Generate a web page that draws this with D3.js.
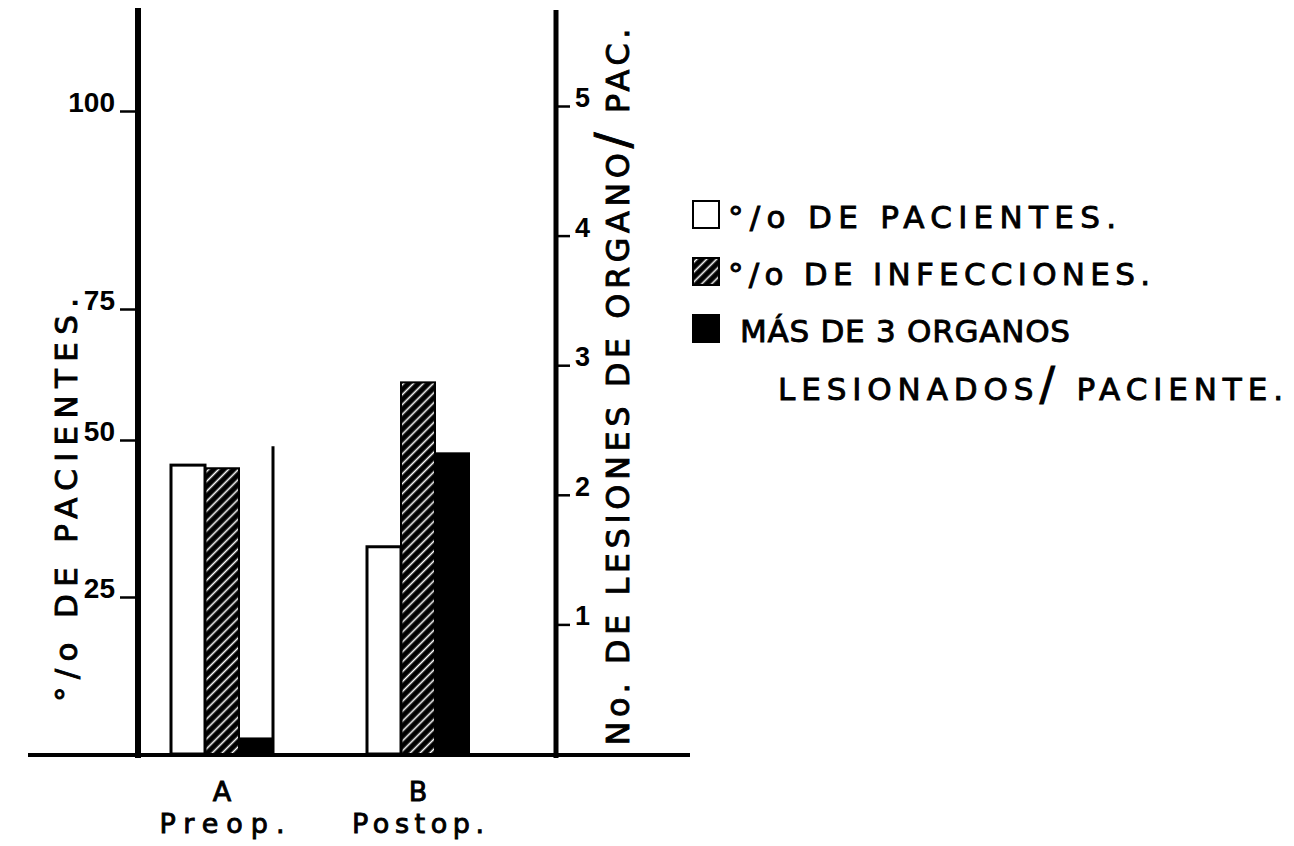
<!DOCTYPE html>
<html>
<head>
<meta charset="utf-8">
<script src="https://cdn.jsdelivr.net/npm/d3@7"></script>
<style>
  body { margin: 0; background: #fff; }
  text { font-family: "DejaVu Sans", sans-serif; fill: #000; }
  .lbl { stroke: #000; stroke-width: 0.9px; }
</style>
</head>
<body>
<script>
// values
const groups = ["A", "B"];
const groupNames = ["Preop.", "Postop."];
const series = ["pacientes", "infecciones", "organos"];
const pctPacientes = [46, 33];        // left axis, %
const pctInfecciones = [45.5, 61];    // left axis, %
const organosPorPac = [0.12, 2.32];   // right axis, lesiones/pac.
const lineaA = 49;                    // thin rule at right of bar group A (left axis)
const leftTicks = [25, 50, 75, 100];
const rightTicks = [1, 2, 3, 4, 5];
const legendLabels = ["°/o DE PACIENTES.", "°/o DE INFECCIONES.", "MÁS DE 3 ORGANOS"];
const legendLabel2 = ["LESIONADOS", "/", " PACIENTE."];

let width = 1294,
  height = 846,
  baseY = 754,
  topY = 8,
  axisLeftX = 138,
  axisRightX = 556;

let svg = d3.select("body")
  .append("svg")
  .attr("width", width)
  .attr("height", height);

// hand drawn scale: ticks are not evenly spaced on the left axis
let yL = d3.scaleLinear()
  .domain([0, 25, 50, 75, 100])
  .range([baseY, 597, 440, 309, 111]);

let yR = d3.scaleLinear()
  .domain([0, 5])
  .range([baseY, 106]);

let x = d3.scalePoint()
  .domain(groups)
  .range([222, 418]);

let sub = d3.scaleBand()
  .domain(series)
  .range([-51, 51]);

let defs = svg.append("defs");
let hatch = defs.append("pattern")
  .attr("id", "hatch")
  .attr("patternUnits", "userSpaceOnUse")
  .attr("width", 7)
  .attr("height", 7)
  .attr("patternTransform", "rotate(45)");
hatch.append("rect")
  .attr("width", 7)
  .attr("height", 7)
  .attr("fill", "#000");
hatch.append("line")
  .attr("x1", 3.5).attr("x2", 3.5)
  .attr("y1", 0).attr("y2", 7)
  .attr("stroke", "#fff")
  .attr("stroke-width", 1.6);

let rows = [];
groups.forEach(function(g, i) {
  rows.push({ g: g, key: "organos", y: yR(organosPorPac[i]) });
  rows.push({ g: g, key: "infecciones", y: yL(pctInfecciones[i]) });
  rows.push({ g: g, key: "pacientes", y: yL(pctPacientes[i]) });
});

let fills = { pacientes: "#fff", infecciones: "url(#hatch)", organos: "#000" };

svg.selectAll(".bar")
  .data(rows)
  .enter()
  .append("rect")
  .attr("class", "bar")
  .attr("x", d => x(d.g) + sub(d.key))
  .attr("y", d => d.y)
  .attr("width", sub.bandwidth())
  .attr("height", d => baseY - d.y)
  .attr("fill", d => fills[d.key])
  .attr("stroke", "#000")
  .attr("stroke-width", d => d.key == "pacientes" ? 3 : 2);

// thin rule next to group A
svg.append("line")
  .attr("x1", x("A") + sub("organos") + sub.bandwidth())
  .attr("x2", x("A") + sub("organos") + sub.bandwidth())
  .attr("y1", yL(lineaA))
  .attr("y2", baseY)
  .attr("stroke", "#000")
  .attr("stroke-width", 3);

// left axis
let gl = svg.append("g")
  .attr("transform", "translate(" + axisLeftX + ",0)")
  .call(d3.axisLeft(yL).tickValues(leftTicks).tickSize(18).tickPadding(5).tickSizeOuter(0));
gl.select(".domain").remove();
gl.selectAll("line").attr("stroke", "#000").attr("stroke-width", 2.5);
gl.selectAll("text")
  .attr("dy", "0.02em")
  .style("font-family", "Liberation Sans, sans-serif")
  .style("font-weight", "bold")
  .style("font-size", "28px")
  .attr("fill", "#000");

svg.append("line")
  .attr("x1", axisLeftX).attr("x2", axisLeftX)
  .attr("y1", topY).attr("y2", baseY + 4)
  .attr("stroke", "#000")
  .attr("stroke-width", 6);

// right axis
let gr = svg.append("g")
  .attr("transform", "translate(" + axisRightX + ",0)")
  .call(d3.axisRight(yR).tickValues(rightTicks).tickFormat(d3.format("d")).tickSize(14).tickPadding(5).tickSizeOuter(0));
gr.select(".domain").remove();
gr.selectAll("line").attr("stroke", "#000").attr("stroke-width", 2.5);
gr.selectAll("text")
  .attr("dy", "0.02em")
  .style("font-family", "Liberation Sans, sans-serif")
  .style("font-weight", "bold")
  .style("font-size", "27px")
  .attr("fill", "#000");

svg.append("line")
  .attr("x1", axisRightX).attr("x2", axisRightX)
  .attr("y1", topY + 2).attr("y2", baseY + 4)
  .attr("stroke", "#000")
  .attr("stroke-width", 5);

// baseline
svg.append("line")
  .attr("x1", 28).attr("x2", 690)
  .attr("y1", baseY + 1).attr("y2", baseY + 1)
  .attr("stroke", "#000")
  .attr("stroke-width", 4);

// axis titles
svg.append("text")
  .attr("class", "lbl")
  .attr("transform", "translate(77,500) rotate(-90)")
  .style("text-anchor", "middle")
  .style("font-size", "31px")
  .attr("textLength", 404)
  .attr("lengthAdjust", "spacing")
  .text("°/o DE PACIENTES.");

let rt = svg.append("text")
  .attr("class", "lbl")
  .attr("transform", "translate(629,387) rotate(-90)")
  .style("text-anchor", "middle")
  .style("font-size", "32px")
  .attr("textLength", 717)
  .attr("lengthAdjust", "spacing");
rt.append("tspan").text("No. DE LESIONES DE ORGANO");
rt.append("tspan").style("font-size", "48px").text("/");
rt.append("tspan").text(" PAC.");

// category labels
svg.selectAll(".grp")
  .data(groups)
  .enter()
  .append("text")
  .attr("class", "grp lbl")
  .attr("x", d => x(d))
  .attr("y", 801)
  .style("text-anchor", "middle")
  .style("font-size", "27px")
  .text(d => d);

svg.selectAll(".grpname")
  .data(groupNames)
  .enter()
  .append("text")
  .attr("class", "grpname lbl")
  .attr("x", (d, i) => x(groups[i]))
  .attr("y", 833)
  .style("text-anchor", "middle")
  .style("font-size", "27px")
  .attr("textLength", (d, i) => i == 0 ? 125 : 132)
  .attr("lengthAdjust", "spacing")
  .text(d => d);

// legend
let legend = svg.selectAll(".legend")
  .data(series)
  .enter()
  .append("g")
  .attr("class", "legend")
  .attr("transform", (d, i) => "translate(693," + (201 + i * 57) + ")");

legend.append("rect")
  .attr("width", 26)
  .attr("height", 27)
  .attr("fill", d => fills[d])
  .attr("stroke", "#000")
  .attr("stroke-width", 2);

let legendX = [35, 35, 47];
let legendLen = [388, 422, 330];
legend.append("text")
  .attr("class", "lbl")
  .attr("x", (d, i) => legendX[i])
  .attr("y", 27)
  .style("font-size", "31px")
  .attr("textLength", (d, i) => legendLen[i])
  .attr("lengthAdjust", "spacing")
  .text((d, i) => legendLabels[i]);

let l2 = svg.append("text")
  .attr("class", "lbl")
  .attr("x", 778)
  .attr("y", 400)
  .style("font-size", "31px")
  .attr("textLength", 505)
  .attr("lengthAdjust", "spacing");
l2.append("tspan").text(legendLabel2[0]);
l2.append("tspan").style("font-size", "46px").text(legendLabel2[1]);
l2.append("tspan").text(legendLabel2[2]);
</script>
</body>
</html>
